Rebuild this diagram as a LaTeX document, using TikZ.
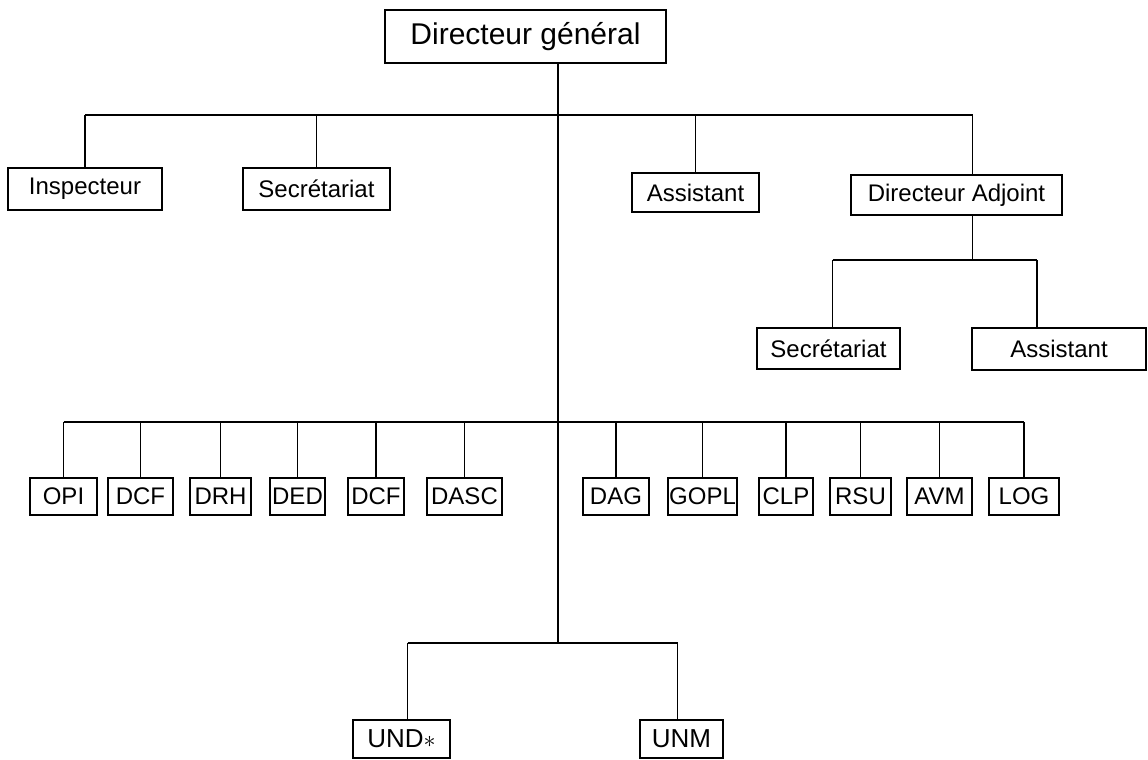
\documentclass[tikz,border=0pt]{standalone}
\usepackage{fontspec}
\setmainfont{Liberation Sans}
\usepackage{tikz}
\usetikzlibrary{positioning}

\begin{document}
\begin{tikzpicture}[
    x=0.5pt, y=-0.5pt,
    box/.style={draw, line width=0.9pt, inner sep=0pt, minimum height=20pt, font=\fontsize{12}{14}\selectfont},
    unit/.style={box, minimum height=18.5pt},
    link/.style={line width=0.9pt}
]
\useasboundingbox (0,0) rectangle (1148,760);

% Direction
\node[box, minimum width=140.5pt, minimum height=26.5pt, font=\fontsize{15}{17}\selectfont] (dg) at (525.5,36.5) {Directeur général};
\coordinate (trunk) at (558,63);

% Staff level
\node[box, minimum width=77pt, minimum height=21pt] (insp) at (85,189) {Inspecteur};
\node[box, minimum width=73.5pt, minimum height=21pt] (secr) at (316.5,189) {Secrétariat};
\node[box, minimum width=63.5pt, minimum height=19.5pt] (asst) at (695.5,192.5) {Assistant};
\node[box, minimum width=105.5pt] (da) at (956.5,195) {Directeur Adjoint};

% Under the deputy
\node[box, minimum width=71.5pt, minimum height=20.5pt] (secda) at (828.5,348.5) {Secrétariat};
\node[box, minimum width=87pt, minimum height=21pt] (astda) at (1059,349) {Assistant};

% Departments
\node[unit, minimum width=33.5pt] (opi) at (63.5,496.5) {OPI};
\node[unit, minimum width=32.5pt] (dcfa) at (140.5,496.5) {DCF};
\node[unit, minimum width=30.5pt] (drh) at (220.5,496.5) {DRH};
\node[unit, minimum width=27.5pt] (ded) at (297.5,496.5) {DED};
\node[unit, minimum width=28pt] (dcfb) at (376,496.5) {DCF};
\node[unit, minimum width=37.5pt] (dasc) at (464.5,496.5) {DASC};
\node[unit, minimum width=33pt] (dag) at (616,496.5) {DAG};
\node[unit, minimum width=34.5pt] (gopl) at (702.5,496.5) {GOPL};
\node[unit, minimum width=27pt] (clp) at (786,496.5) {CLP};
\node[unit, minimum width=30.5pt] (rsu) at (860.5,496.5) {RSU};
\node[unit, minimum width=32.5pt] (avm) at (939.5,496.5) {AVM};
\node[unit, minimum width=35pt] (log) at (1024,496.5) {LOG};

% Units
\node[box, minimum width=48.5pt, minimum height=19pt, font=\fontsize{13}{15}\selectfont] (und) at (401.5,739) {UND$\ast$};
\node[box, minimum width=41.5pt, minimum height=19pt, font=\fontsize{13}{15}\selectfont] (unm) at (681.5,739) {UNM};

% Bus levels
\coordinate (b1) at (0,115);
\coordinate (b2) at (0,260);
\coordinate (b3) at (0,422);
\coordinate (b4) at (0,643);

% Links
\draw[link] (trunk) -- (trunk |- b4);
\draw[link] (insp.north |- b1) -- ([xshift=8pt]da.north |- b1);
\foreach \n in {insp, secr, asst} {
  \draw[link] (\n.north) -- (\n.north |- b1);
}
\draw[link] ([xshift=8pt]da.north) -- ([xshift=8pt]da.north |- b1);

\draw[link] ([xshift=8pt]da.south) -- ([xshift=8pt]da.south |- b2);
\draw[link] ([xshift=2pt]secda.north |- b2) -- ([xshift=-11pt]astda.north |- b2);
\draw[link] ([xshift=2pt]secda.north) -- ([xshift=2pt]secda.north |- b2);
\draw[link] ([xshift=-11pt]astda.north) -- ([xshift=-11pt]astda.north |- b2);

\draw[link] (opi.north |- b3) -- (log.north |- b3);
\foreach \n in {opi, dcfa, drh, ded, dcfb, dasc, dag, gopl, clp, rsu, avm, log} {
  \draw[link] (\n.north) -- (\n.north |- b3);
}

\draw[link] ([xshift=3pt]und.north |- b4) -- ([xshift=-2pt]unm.north |- b4);
\draw[link] ([xshift=3pt]und.north) -- ([xshift=3pt]und.north |- b4);
\draw[link] ([xshift=-2pt]unm.north) -- ([xshift=-2pt]unm.north |- b4);

\end{tikzpicture}
\end{document}
